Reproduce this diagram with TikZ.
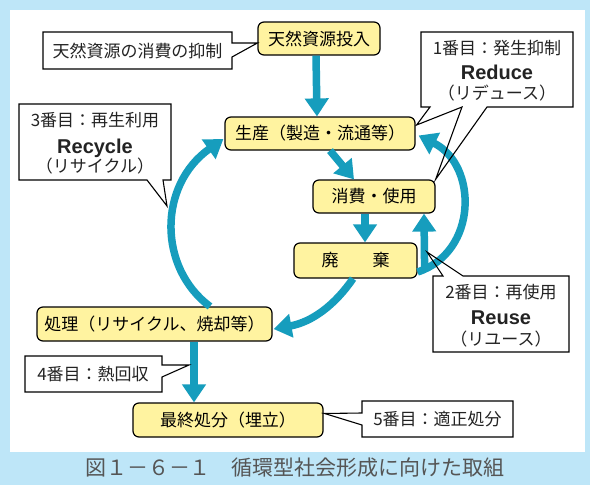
\documentclass[tikz,border=0pt]{standalone}
\usepackage{fontspec}
\newfontfamily\jp{Noto Sans CJK JP}
\newfontfamily\lat{Liberation Sans}
\usetikzlibrary{arrows.meta}
\definecolor{frameblue}{RGB}{190,230,248}
\definecolor{boxyellow}{RGB}{255,243,160}
\definecolor{flowteal}{RGB}{22,157,189}
\definecolor{textgray}{RGB}{35,35,35}
\definecolor{captiongray}{RGB}{85,85,85}
\begin{document}
\begin{tikzpicture}[x=1pt,y=-1pt,
  box/.style={draw=black, line width=1.2pt, rounded corners=6pt, fill=boxyellow,
    inner sep=0pt, font=\jp\fontsize{17}{20}\selectfont, text=black},
  flow/.style={draw=flowteal, line width=7.5pt, -{Triangle[width=23pt,length=18pt]}},
  callout/.style={draw=black, line width=1.1pt, line join=miter},
  cfill/.style={fill=white},
  ctext/.style={font=\jp\fontsize{17}{20}\selectfont, text=textgray, inner sep=0pt},
  rtext/.style={font=\lat\bfseries\fontsize{20}{22}\selectfont, text=textgray, inner sep=0pt},
]
\useasboundingbox (0,0) rectangle (590,485);
\fill[frameblue] (0,0) rectangle (590,485);
\fill[white] (10,10) rectangle (585,452);

% boxes
\node[box, minimum width=122pt, minimum height=33pt] (n1) at (319,38.5) {天然資源投入};
\node[box, minimum width=190pt, minimum height=33pt] (n2) at (320,133.5) {生産（製造・流通等）};
\node[box, minimum width=122pt, minimum height=33pt] (n3) at (374,196.5) {消費・使用};
\node[box, minimum width=123pt, minimum height=35pt] (n4) at (355.5,260.5) {廃　　棄};
\node[box, minimum width=235pt, minimum height=34pt] (n5) at (154.5,324) {処理（リサイクル、焼却等）};
\node[box, minimum width=190pt, minimum height=34pt] (n6) at (228,420) {最終処分（埋立）};

% flows
\draw[flow] ([xshift=-3pt]n1.south) -- ([xshift=-3pt]n2.north);
\draw[flow] ([xshift=10pt]n2.south) -- ([xshift=-20pt]n3.north);
\draw[flow] ([xshift=-9pt]n3.south) -- ([xshift=9.5pt]n4.north);
\draw[flow] ([shift={(7,7.5)}]n4.east) -- ([xshift=50pt]n3.south);
\draw[flow] ([shift={(0,11.5)}]n4.east) .. controls (478,252) and (478,165) .. ([shift={(3,2)}]n2.east);
\draw[flow] ([xshift=-2.5pt]n4.south) .. controls (335,305) and (312,322) .. ([shift={(1,5)}]n5.east);
\draw[flow] ([xshift=55.5pt]n5.north) .. controls (158,268) and (158,185) .. ([shift={(-1,5.5)}]n2.west);
\draw[flow] ([xshift=39.5pt]n5.south) -- ([xshift=-34pt]n6.north);

% callouts
\fill[cfill] (43,32) rectangle (232,69);
\draw[callout] (43,32) -- (232,32) -- (232,43) -- ([yshift=-4.5pt]n1.west) -- (232,57) -- (232,69) -- (43,69) -- cycle;
\node[ctext] (ca) at (137.5,50.5) {天然資源の消費の抑制};

\fill[cfill] (19,104) rectangle (171,180);
\draw[callout] (19,104) -- (171,104) -- (171,180) -- (163,180) -- (167,206) -- (147,180) -- (19,180) -- cycle;
\node[ctext, anchor=base] (cb1) at (95,126) {3番目：再生利用};
\node[rtext, anchor=base] (cb2) at (95,153) {Recycle};
\node[ctext, anchor=base] (cb3) at (95,172) {（リサイクル）};

\fill[cfill] (421,32) rectangle (573,107);
\draw[callout] (421,32) -- (573,32) -- (573,107) -- (487,107) -- (n3.north east) -- (462,107) -- ([shift={(1,-8.5)}]n2.east) -- (430,107) -- (421,107) -- cycle;
\node[ctext, anchor=base] (cc1) at (497,54) {1番目：発生抑制};
\node[rtext, anchor=base] (cc2) at (497,79) {Reduce};
\node[ctext, anchor=base] (cc3) at (497,99.5) {（リデュース）};

\fill[cfill] (433,276) rectangle (569,352);
\draw[callout] (433,276) -- (443,276) -- (427,252) -- (463,276) -- (569,276) -- (569,352) -- (433,352) -- cycle;
\node[ctext, anchor=base] (cd1) at (501,298) {2番目：再使用};
\node[rtext, anchor=base] (cd2) at (501,324) {Reuse};
\node[ctext, anchor=base] (cd3) at (501,345) {（リユース）};

\fill[cfill] (25,356) rectangle (162,392);
\draw[callout] (25,356) -- (162,356) -- (162,365) -- (189,365) -- (162,377) -- (162,392) -- (25,392) -- cycle;
\node[ctext] (ce) at (93,374) {4番目：熱回収};

\fill[cfill] (362,401) rectangle (513,437);
\draw[callout] (362,401) -- (513,401) -- (513,437) -- (362,437) -- (362,425) -- ([shift={(1,-6.5)}]n6.east) -- (362,413) -- cycle;
\node[ctext] (cf) at (437.5,419) {5番目：適正処分};

% caption
\node[font=\jp\fontsize{21}{24}\selectfont, text=captiongray, inner sep=0pt] (cap) at (295,468) {図１－６－１　循環型社会形成に向けた取組};
\end{tikzpicture}
\end{document}
